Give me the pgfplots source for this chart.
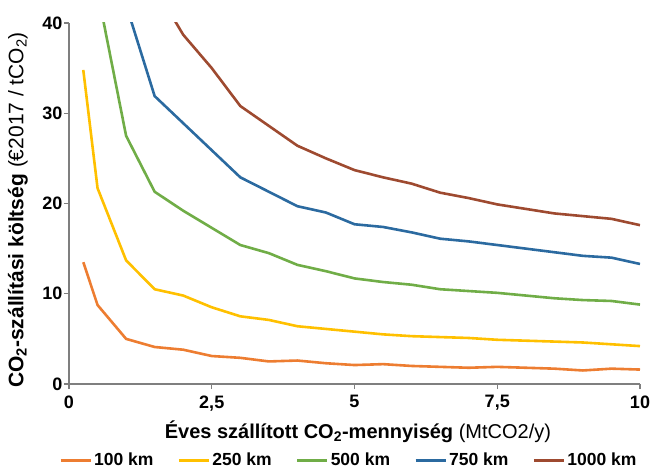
\documentclass[border=0pt]{standalone}
\usepackage{fontspec}
\setmainfont{Liberation Sans}
\usepackage{pgfplots}
\pgfplotsset{compat=1.18}
\definecolor{c100}{HTML}{ED7D31}
\definecolor{c250}{HTML}{FFC000}
\definecolor{c500}{HTML}{70AD47}
\definecolor{c750}{HTML}{2B6AA0}
\definecolor{c1000}{HTML}{9E4A30}
\definecolor{axgray}{HTML}{7F7F7F}
\begin{document}
\begin{tikzpicture}
\begin{axis}[
  name=ax,
  scale only axis,
  width=571pt, height=361pt,
  xmin=0, xmax=10, ymin=0, ymax=40,
  axis x line*=bottom, axis y line*=left,
  axis line style={axgray, line width=1.6pt},
  every tick/.style={axgray, line width=1.2pt},
  tick align=outside, major tick length=5pt,
  xtick={0,2.5,5,7.5,10}, ytick={0,10,20,30,40},
  xticklabels={0,{2,5},5,{7,5},10},
  /pgf/number format/assume math mode=true,
  ticklabel style={font=\fontsize{18}{21}\selectfont\bfseries},
  xticklabel style={yshift=-3pt},
  yticklabel style={xshift=2pt},
  clip=true,
  xlabel={\textbf{Éves szállított CO\textsubscript{2}-mennyiség} (MtCO2/y)},
  xlabel style={font=\fontsize{20}{23}\selectfont, at={(axis description cs:0.506,0)}, anchor=base, yshift=-54pt},
  ylabel={\textbf{CO\textsubscript{2}-szállítási költség} (€2017 / tCO\textsubscript{2})},
  ylabel style={font=\fontsize{21}{24}\selectfont, at={(axis description cs:-0.0893,0.482)}, anchor=center},
  legend columns=5,
  legend style={draw=none, font=\fontsize{17.5}{20}\selectfont\bfseries, at={(axis description cs:0.49,0)}, anchor=center, yshift=-76pt, inner sep=0pt, /tikz/every even column/.append style={column sep=22pt}},
  legend image code/.code={\draw[#1, line width=3pt] (0pt,0pt) -- (30pt,0pt);},
  every axis plot/.append style={line width=2.6pt},
]
\addplot[c100] coordinates {(0.25,13.5)(0.5,8.75)(1,5.0)(1.5,4.1)(2,3.8)(2.5,3.1)(3,2.9)(3.5,2.5)(4,2.6)(4.5,2.3)(5,2.1)(5.5,2.2)(6,2.0)(6.5,1.9)(7,1.8)(7.5,1.9)(8,1.8)(8.5,1.7)(9,1.5)(9.5,1.7)(10,1.6)};
\addlegendentry{100 km}
\addplot[c250] coordinates {(0.25,34.8)(0.5,21.7)(1,13.7)(1.5,10.5)(2,9.8)(2.5,8.5)(3,7.5)(3.5,7.1)(4,6.4)(4.5,6.1)(5,5.8)(5.5,5.5)(6,5.3)(6.5,5.2)(7,5.1)(7.5,4.9)(8,4.8)(8.5,4.7)(9,4.6)(9.5,4.4)(10,4.2)};
\addlegendentry{250 km}
\addplot[c500] coordinates {(0.5,43.5)(1,27.5)(1.5,21.3)(2,19.2)(2.5,17.3)(3,15.4)(3.5,14.5)(4,13.2)(4.5,12.5)(5,11.7)(5.5,11.3)(6,11.0)(6.5,10.5)(7,10.3)(7.5,10.1)(8,9.8)(8.5,9.5)(9,9.3)(9.5,9.2)(10,8.8)};
\addlegendentry{500 km}
\addplot[c750] coordinates {(1,42)(1.5,31.9)(2,28.9)(2.5,25.9)(3,22.9)(3.5,21.3)(4,19.7)(4.5,19.0)(5,17.7)(5.5,17.4)(6,16.8)(6.5,16.1)(7,15.8)(7.5,15.4)(8,15.0)(8.5,14.6)(9,14.2)(9.5,14.0)(10,13.3)};
\addlegendentry{750 km}
\addplot[c1000] coordinates {(1.5,44)(2,38.7)(2.5,35.0)(3,30.8)(3.5,28.6)(4,26.4)(4.5,25.0)(5,23.7)(5.5,22.9)(6,22.2)(6.5,21.2)(7,20.6)(7.5,19.9)(8,19.4)(8.5,18.9)(9,18.6)(9.5,18.3)(10,17.6)};
\addlegendentry{1000 km}
\end{axis}
\pgfresetboundingbox
\path (ax.south west) ++(-69pt,-87pt) rectangle ++(652pt,471pt);
\end{tikzpicture}
\end{document}
